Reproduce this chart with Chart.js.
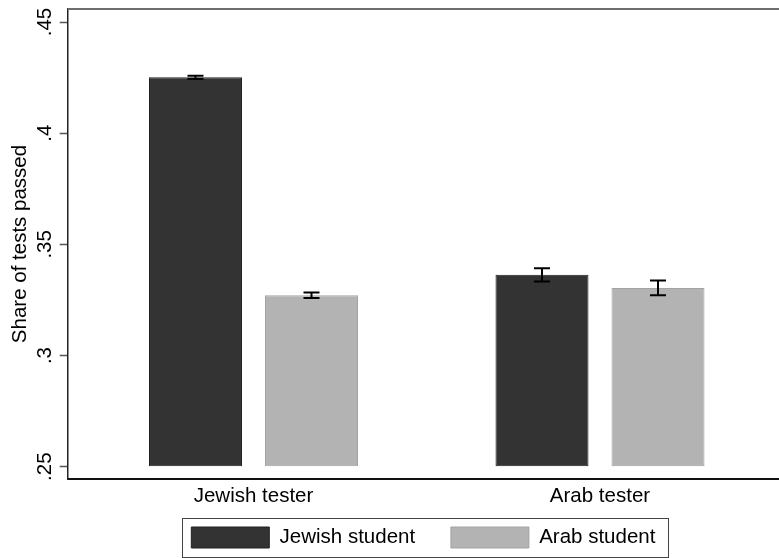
<!DOCTYPE html>
<html>
<head>
<meta charset="utf-8">
<script src="https://cdn.jsdelivr.net/npm/chart.js@4/dist/chart.umd.min.js"></script>
<style>
  html, body { margin: 0; padding: 0; background: #fff; }
  #wrap { width: 779px; height: 558px; }
</style>
</head>
<body>
<div id="wrap"><canvas id="c" width="779" height="558"></canvas></div>
<script>
// Share of driving tests passed, by tester and student background
const testerGroups = ['Jewish tester', 'Arab tester'];
const studentSeries = ['Jewish student', 'Arab student'];
const jewishStudentShare = [0.4251, 0.3363];
const arabStudentShare = [0.3271, 0.3304];
// half-widths of the confidence intervals
const jewishStudentCI = [0.0007, 0.0030];
const arabStudentCI = [0.0012, 0.0033];
const yTickValues = [0.25, 0.30, 0.35, 0.40, 0.45];
const yTickLabels = ['.25', '.3', '.35', '.4', '.45'];

const FONT = "'Liberation Sans', Arial, Helvetica, sans-serif";
const FS = 20.5;

function toPoints(values) {
  return values.map((v, i) => ({ x: i + 1, y: v }));
}

// caps and whiskers on top of each bar
const errorBars = {
  id: 'errorBars',
  afterDatasetsDraw(chart) {
    const ctx = chart.ctx;
    const y = chart.scales.y;
    ctx.save();
    ctx.strokeStyle = '#000';
    ctx.lineWidth = 2;
    chart.data.datasets.forEach((ds, di) => {
      const meta = chart.getDatasetMeta(di);
      meta.data.forEach((bar, i) => {
        const v = ds.data[i].y, e = ds.ci[i];
        const yHi = y.getPixelForValue(v + e);
        const yLo = y.getPixelForValue(v - e);
        const x = bar.x, hw = 8;
        ctx.beginPath();
        ctx.moveTo(x, yHi); ctx.lineTo(x, yLo);
        ctx.moveTo(x - hw, yHi); ctx.lineTo(x + hw, yHi);
        ctx.moveTo(x - hw, yLo); ctx.lineTo(x + hw, yLo);
        ctx.stroke();
      });
    });
    ctx.restore();
  }
};

// top edge of the plot region and outline around the legend
const frame = {
  id: 'frame',
  afterDraw(chart) {
    const ctx = chart.ctx;
    const a = chart.chartArea;
    ctx.save();
    ctx.strokeStyle = '#6e6e6e';
    ctx.lineWidth = 2;
    ctx.beginPath();
    ctx.moveTo(a.left, a.top); ctx.lineTo(a.right, a.top);
    ctx.stroke();

    const boxes = chart.legend.legendHitBoxes;
    if (boxes && boxes.length) {
      const first = boxes[0], last = boxes[boxes.length - 1];
      const cy = first.top + first.height / 2;
      const l = first.left - 9, r = last.left + last.width + 13;
      ctx.strokeStyle = '#444';
      ctx.lineWidth = 1;
      ctx.strokeRect(Math.round(l) + 0.5, Math.round(cy - 19.5) + 0.5, Math.round(r - l), 39);
    }
    ctx.restore();
  }
};

new Chart(document.getElementById('c'), {
  type: 'bar',
  data: {
    datasets: [
      {
        label: studentSeries[0],
        data: toPoints(jewishStudentShare),
        ci: jewishStudentCI,
        base: 0.25,
        backgroundColor: '#333333',
        borderColor: '#222222',
        borderWidth: 1,
        borderSkipped: false
      },
      {
        label: studentSeries[1],
        data: toPoints(arabStudentShare),
        ci: arabStudentCI,
        base: 0.25,
        backgroundColor: '#b3b3b3',
        borderColor: '#a3a3a3',
        borderWidth: 1,
        borderSkipped: false
      }
    ]
  },
  options: {
    responsive: false,
    animation: false,
    devicePixelRatio: 1,
    categoryPercentage: 0.6696,
    barPercentage: 0.8017,
    layout: { padding: { top: 9, right: 0, left: 0, bottom: 0 } },
    plugins: {
      tooltip: { enabled: false },
      legend: {
        position: 'bottom',
        fullSize: false,
        labels: {
          boxWidth: 78,
          boxHeight: 21,
          padding: 35.75,
          color: '#000',
          font: { family: FONT, size: FS }
        }
      }
    },
    scales: {
      x: {
        type: 'linear',
        offset: false,
        bounds: 'data',
        min: 0.4638,
        max: 2.5166,
        afterBuildTicks(scale) {
          scale.ticks = testerGroups.map((g, i) => ({ value: i + 1 }));
        },
        afterFit(scale) {
          scale.height = 12.25;
          scale.paddingLeft = 0;
          scale.paddingRight = 0;
        },
        grid: { display: false, drawTicks: false },
        border: { display: true, color: '#111', width: 2 },
        ticks: {
          mirror: true,
          padding: -29.3,
          color: '#000',
          font: { family: FONT, size: FS },
          callback: (v, i) => testerGroups[i]
        }
      },
      y: {
        min: 0.24447,
        max: 0.45585,
        afterBuildTicks(scale) {
          scale.ticks = yTickValues.map(v => ({ value: v }));
        },
        afterFit(scale) {
          scale.width = 67.7;
          scale.paddingTop = 0;
          scale.paddingBottom = 0;
        },
        grid: {
          display: true,
          drawOnChartArea: false,
          drawTicks: true,
          tickLength: 8,
          tickColor: '#555',
          tickWidth: 1.5
        },
        border: { display: true, color: '#222', width: 1.5 },
        ticks: {
          minRotation: 90,
          maxRotation: 90,
          crossAlign: 'center',
          padding: 0.5,
          color: '#000',
          font: { family: FONT, size: FS },
          callback: (v, i) => yTickLabels[i]
        },
        title: {
          display: true,
          text: 'Share of tests passed',
          color: '#000',
          font: { family: FONT, size: FS },
          padding: { top: 8, bottom: 0 }
        }
      }
    }
  },
  plugins: [errorBars, frame]
});
</script>
</body>
</html>
